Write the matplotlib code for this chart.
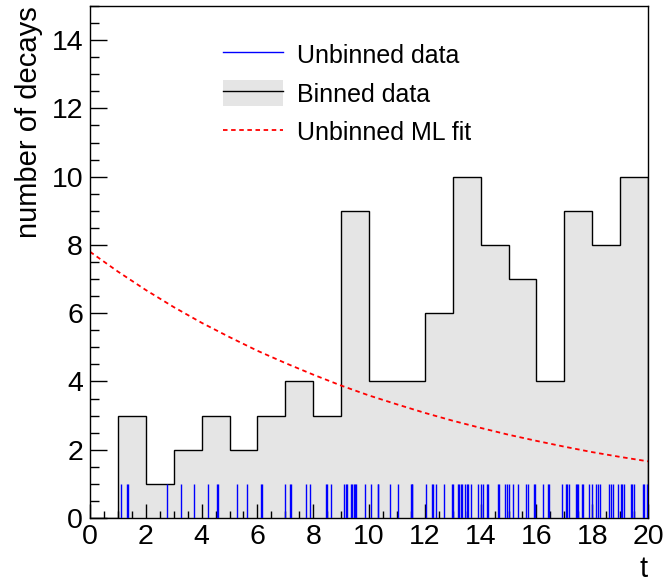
import numpy as np
import matplotlib.pyplot as plt
from matplotlib.patches import Patch
from matplotlib.lines import Line2D

plt.rcParams['font.family'] = ['Liberation Sans', 'DejaVu Sans']

# unbinned decay times
events = [1.11, 1.31, 1.36,
          2.76,
          3.26, 3.73,
          4.24, 4.55, 4.59,
          5.28, 5.64,
          6.13, 6.18, 6.98,
          7.16, 7.20, 7.73, 7.90,
          8.45, 8.48, 8.64,
          9.11, 9.16, 9.21, 9.35, 9.40, 9.45, 9.50, 9.53, 9.86,
          10.07, 10.31, 10.33, 10.75,
          11.03, 11.51, 11.53, 11.55,
          12.04, 12.27, 12.31, 12.41, 12.70, 12.97,
          13.02, 13.20, 13.24, 13.29, 13.32, 13.44, 13.50, 13.56, 13.64, 13.89,
          14.01, 14.10, 14.22, 14.25, 14.61, 14.67, 14.87, 14.93,
          15.02, 15.17, 15.33, 15.62, 15.71, 15.93, 15.96,
          16.22, 16.42, 16.45, 16.91,
          17.06, 17.11, 17.17, 17.41, 17.44, 17.48, 17.65, 17.68, 17.89,
          18.00, 18.14, 18.20, 18.28, 18.61, 18.67, 18.76, 18.91,
          19.03, 19.06, 19.15, 19.39, 19.44, 19.51, 19.81, 19.87, 19.95, 19.99]

# binned histogram (1 unit bins, 0..20)
bin_edges = list(range(0, 21))
counts = [0, 3, 1, 2, 3, 2, 3, 4, 3, 9, 4, 4, 6, 10, 8, 7, 4, 9, 8, 10]

# ML fit curve, read at integer t
fit_t = list(range(0, 21))
fit_y = [7.80, 7.22, 6.68, 6.18, 5.72, 5.30, 4.90, 4.54, 4.20, 3.88, 3.59,
         3.33, 3.08, 2.85, 2.64, 2.44, 2.26, 2.09, 1.93, 1.79, 1.66]

grey = '#e5e5e5'

fig = plt.figure(figsize=(6.63, 5.88), dpi=100)
ax = fig.add_axes([90/663, 1-518/588, (648-90)/663, (518-6)/588])

ax.stairs(counts, bin_edges, fill=True, color=grey, lw=0)
ax.stairs(counts, bin_edges, color='black', lw=1)
ax.vlines(events, 0, 1, color='blue', lw=1, zorder=3)
ax.plot(fit_t, fit_y, color='red', ls=(0, (2.5, 2)), lw=1.3)

ax.set_xlim(0, 20)
ax.set_ylim(0, 15)
ax.set_xticks(np.arange(0, 21, 2))
ax.set_xticks(np.arange(0, 20.1, 0.5), minor=True)
ax.set_yticks(np.arange(0, 15, 2))
ax.set_yticks(np.arange(0, 15.1, 0.5), minor=True)
ax.tick_params(which='both', direction='in', top=False, right=False,
               labelsize=20.5, width=1)
ax.tick_params(axis='x', which='major', length=10, pad=4)
ax.tick_params(axis='x', which='minor', length=5)
ax.tick_params(axis='y', which='major', length=12, pad=5)
ax.tick_params(axis='y', which='minor', length=6.5)
for s in ax.spines.values():
    s.set_linewidth(1)

ax.set_ylabel('number of decays', fontsize=21, loc='top', labelpad=6)
ax.set_xlabel('t', fontsize=21, loc='right', labelpad=4)

handles = [Line2D([], [], color='blue', lw=1),
           (Patch(facecolor=grey, edgecolor='none'), Line2D([], [], color='black', lw=1)),
           Line2D([], [], color='red', ls=(0, (2.5, 2)), lw=1.3)]
labels = ['Unbinned data', 'Binned data', 'Unbinned ML fit']
ax.legend(handles, labels, loc='upper left', bbox_to_anchor=(0.22, 0.95),
          frameon=False, fontsize=18, handlelength=2.4, handleheight=1.2,
          handletextpad=0.55, labelspacing=0.5, borderaxespad=0)

fig.savefig('out.png', dpi=100)
